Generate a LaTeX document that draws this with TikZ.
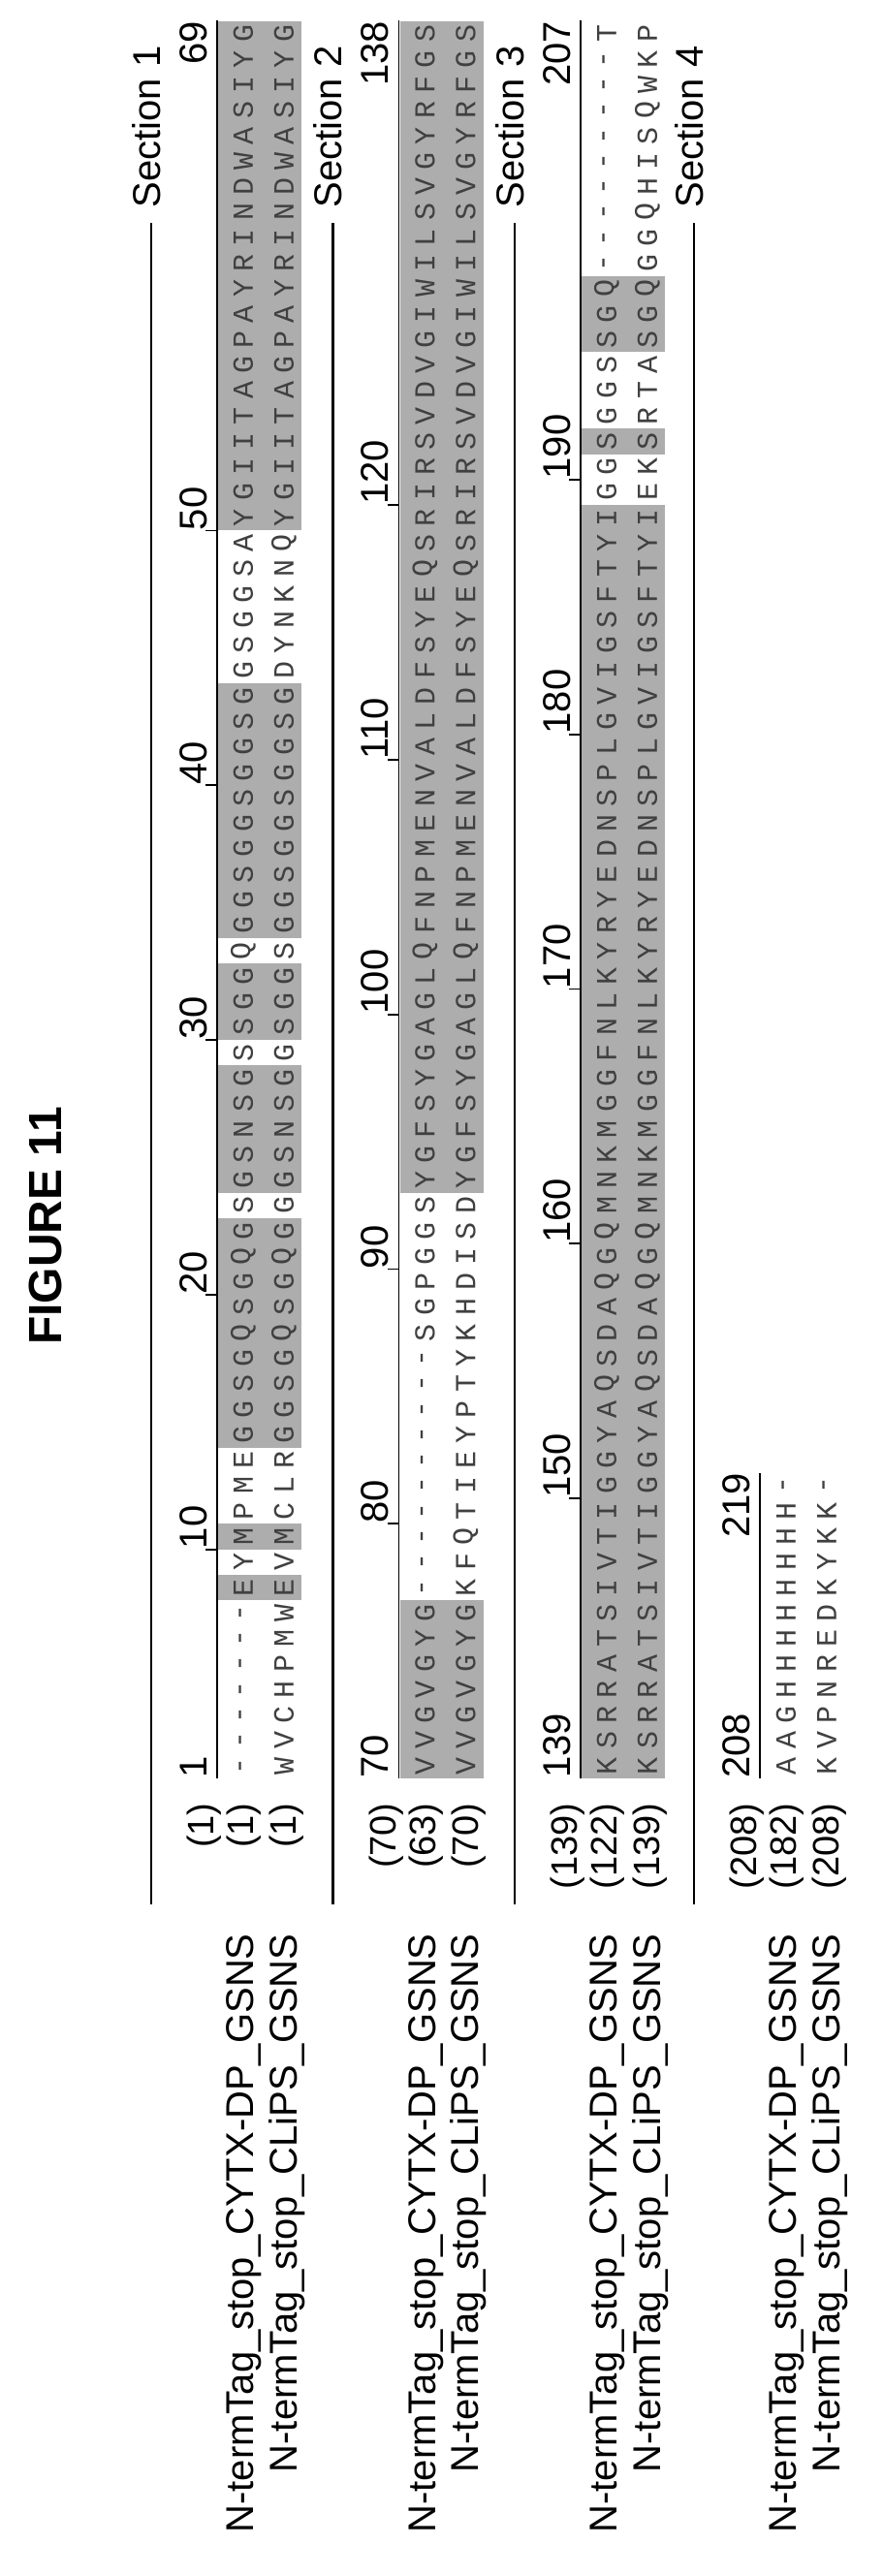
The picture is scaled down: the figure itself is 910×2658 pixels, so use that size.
\documentclass[tikz,border=0pt]{standalone}
\usepackage{fontspec}
\setmainfont{Liberation Sans}
\newfontfamily\seqfont{Liberation Mono}
\begin{document}
\begin{tikzpicture}[x=0.5pt,y=-0.5pt,
  aa/.style={rotate=90,inner sep=0,font=\seqfont\fontsize{15}{15}\selectfont,text=black!75},
  lab/.style={rotate=90,inner sep=0,anchor=east,font=\fontsize{20}{20}\selectfont},
  num/.style={rotate=90,inner sep=0,font=\fontsize{20}{20}\selectfont},
  rnum/.style={rotate=90,inner sep=0,anchor=east,font=\fontsize{19}{19}\selectfont},
  band/.style={fill=black!32},
  rule/.style={line width=0.9pt},
  secline/.style={line width=1.2pt}]
\useasboundingbox (0,0) rectangle (910,2658);
\newcounter{colc}
\def\colc#1{(1822-(#1-1)*26.28)}
\def\putseq#1#2{\setcounter{colc}{0}\def\rowx{#1}\doseq#2\relax}
\def\doseq#1{\ifx#1\relax\else\stepcounter{colc}\node[aa] at ({\rowx},{1822-(\number\value{colc}-1)*26.28}) {#1};\expandafter\doseq\fi}
\def\gband#1#2#3{\fill[band] ({225+#1},{1822-(#3-1)*26.28-13.14}) rectangle ({311+#1},{1822-(#2-1)*26.28+13.14});}
\def\tick#1#2#3{\draw[rule] ({212+#1},{1822-(#2-1.5)*26.28}) -- ({224+#1},{1822-(#2-1.5)*26.28});
  \node[num,anchor=base west] at ({213+#1},{1822-(#2-1.5)*26.28}) {#3};}

\node[rotate=90,font=\bfseries\fontsize{24}{24}\selectfont] (fig) at (47,1265) {FIGURE 11};

% section lines and labels
\foreach \d/\s in {0/1,187.5/2,375/3,560/4}{
  \draw[secline] ({156+\d},230) -- ({156+\d},1965);
  \node[lab] (sec\s) at ({151+\d},47) {Section \s};
}

% shading
\gband{0}{8}{8}\gband{0}{10}{10}\gband{0}{14}{22}\gband{0}{24}{28}\gband{0}{30}{32}\gband{0}{34}{43}\gband{0}{50}{69}
\gband{187.5}{1}{7}\gband{187.5}{24}{69}
\gband{375}{1}{50}\gband{375}{53}{53}\gband{375}{57}{59}

% rulers
\foreach \d in {0,187.5,375}{\draw[rule] ({224+\d},1835.1) -- ({224+\d},21.5);}
\draw[rule] (784,1835.1) -- (784,1519.8);

% section 1
\node[num,anchor=base west] at (213,1835) {1};
\tick{0}{10}{10}\tick{0}{20}{20}\tick{0}{30}{30}\tick{0}{40}{40}\tick{0}{50}{50}
\node[num,anchor=base east] at (213,21.5) {69};
\putseq{251}{-------EYMPMEGGSGQSGQGSGSNSGSSGGQGGSGGSGGSGGSGGSAYGIITAGPAYRINDWASIYG}
\putseq{293}{WVCHPMWEVMCLRGGSGQSGQGGGSNSGGSGGSGGSGGSGGSGDYNKNQYGIITAGPAYRINDWASIYG}
\node[rnum] at (211,1860) {(1)};
\node[rnum] at (252,1860) {(1)};
\node[rnum] at (296,1860) {(1)};
\node[lab] (a1) at (252,1995) {N-termTag\_stop\_CYTX-DP\_GSNS};
\node[lab] (b1) at (296,1995) {N-termTag\_stop\_CLiPS\_GSNS};

% section 2
\node[num,anchor=base west] at (400.5,1835) {70};
\tick{187.5}{11}{80}\tick{187.5}{21}{90}\tick{187.5}{31}{100}\tick{187.5}{41}{110}\tick{187.5}{51}{120}
\node[num,anchor=base east] at (400.5,21.5) {138};
\putseq{438.5}{VVGVGYG----------SGPGGSYGFSYGAGLQFNPMENVALDFSYEQSRIRSVDVGIWILSVGYRFGS}
\putseq{480.5}{VVGVGYGKFQTIEYPTYKHDISDYGFSYGAGLQFNPMENVALDFSYEQSRIRSVDVGIWILSVGYRFGS}
\node[rnum] at (398.5,1860) {(70)};
\node[rnum] at (439.5,1860) {(63)};
\node[rnum] at (483.5,1860) {(70)};
\node[lab] (a2) at (439.5,1995) {N-termTag\_stop\_CYTX-DP\_GSNS};
\node[lab] (b2) at (483.5,1995) {N-termTag\_stop\_CLiPS\_GSNS};

% section 3
\node[num,anchor=base west] at (588,1835) {139};
\tick{375}{12}{150}\tick{375}{22}{160}\tick{375}{32}{170}\tick{375}{42}{180}\tick{375}{52}{190}
\node[num,anchor=base east] at (588,21.5) {207};
\putseq{626}{KSRRATSIVTIGGYAQSDAQGQMNKMGGFNLKYRYEDNSPLGVIGSFTYIGGSGGSSGQ---------T}
\putseq{668}{KSRRATSIVTIGGYAQSDAQGQMNKMGGFNLKYRYEDNSPLGVIGSFTYIEKSRTASGQGGQHISQWKP}
\node[rnum] at (586,1860) {(139)};
\node[rnum] at (627,1860) {(122)};
\node[rnum] at (671,1860) {(139)};
\node[lab] (a3) at (627,1995) {N-termTag\_stop\_CYTX-DP\_GSNS};
\node[lab] (b3) at (671,1995) {N-termTag\_stop\_CLiPS\_GSNS};

% section 4
\node[num,anchor=base west] at (773,1835) {208};
\node[num,anchor=base east] at (773,1519.8) {219};
\putseq{811}{AAGHHHHHHHH-}
\putseq{853}{KVPNREDKYKK-}
\node[rnum] at (771,1860) {(208)};
\node[rnum] at (812,1860) {(182)};
\node[rnum] at (856,1860) {(208)};
\node[lab] (a4) at (812,1995) {N-termTag\_stop\_CYTX-DP\_GSNS};
\node[lab] (b4) at (856,1995) {N-termTag\_stop\_CLiPS\_GSNS};
\end{tikzpicture}
\end{document}
